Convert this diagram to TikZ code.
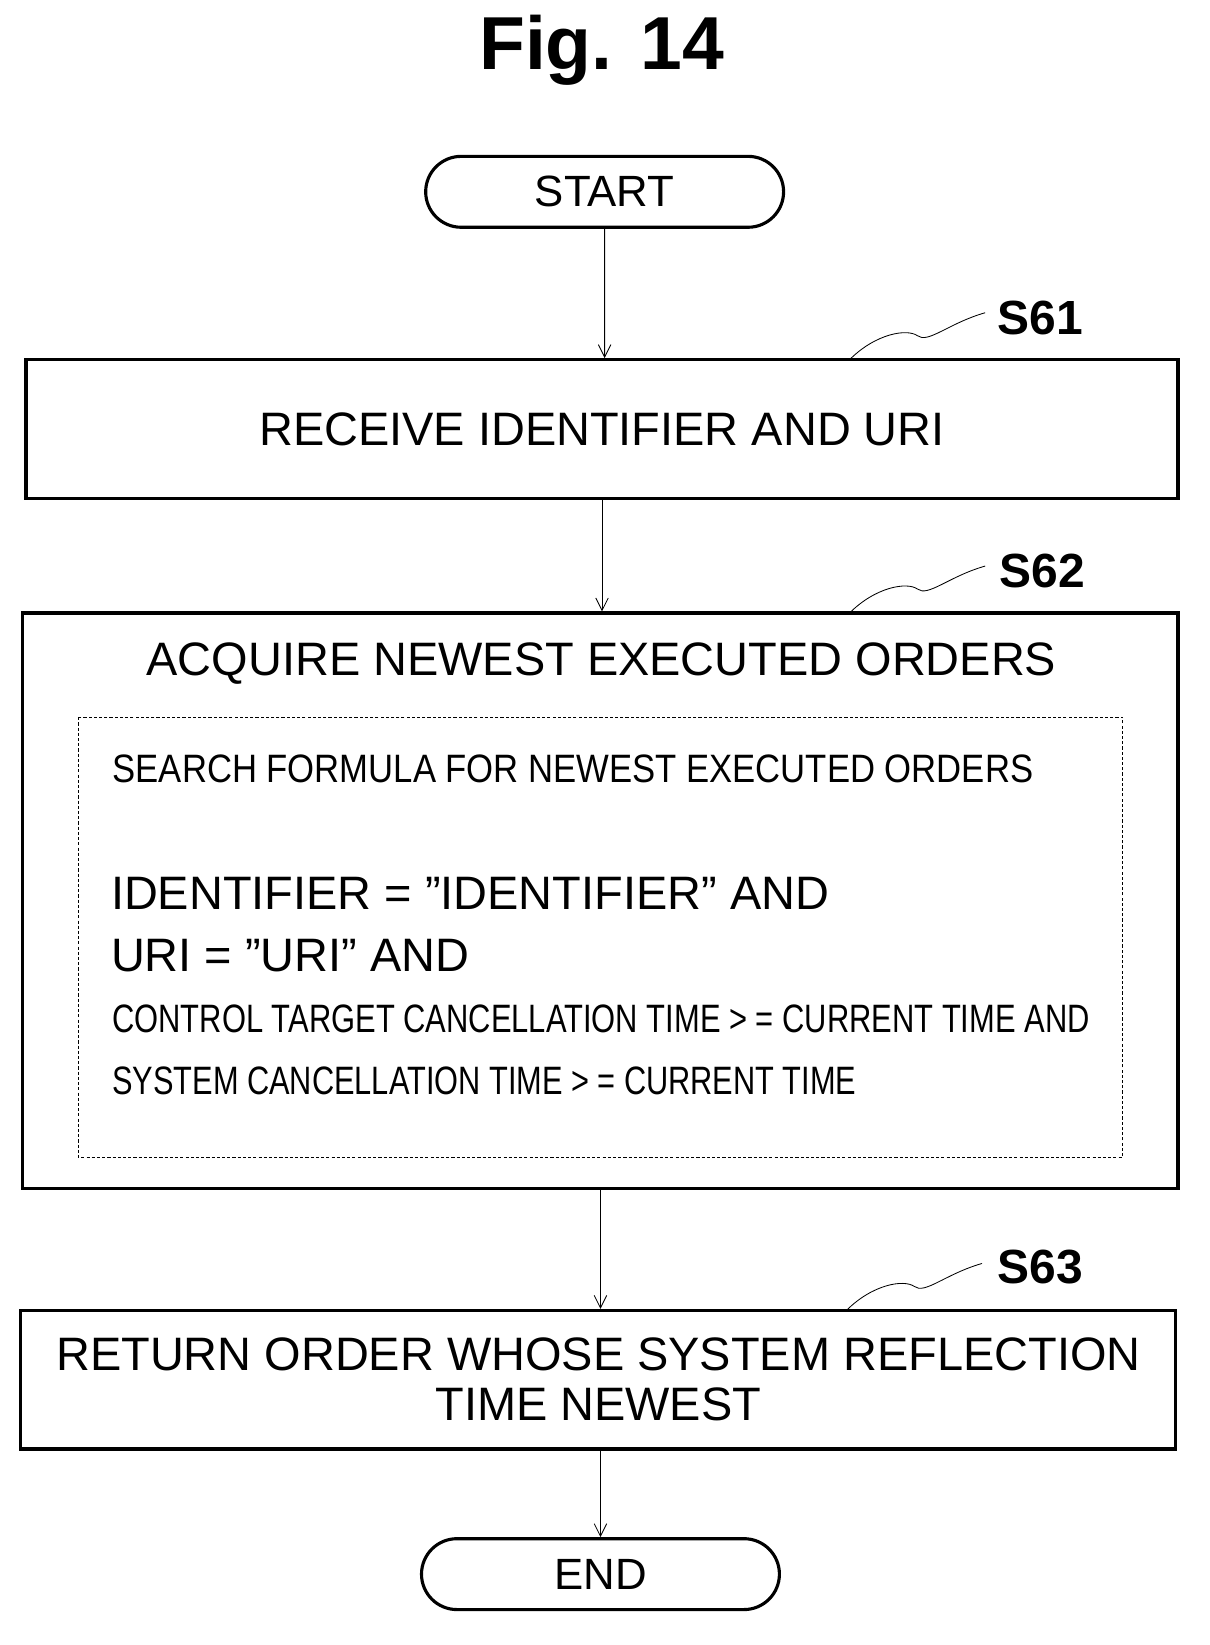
\documentclass[tikz,border=0pt]{standalone}
\usepackage{fontspec}
\setmainfont{Liberation Sans}
\usetikzlibrary{arrows.meta,shapes.misc}
\newcommand{\q}{\symbol{34}}
\begin{document}
\begin{tikzpicture}[x=1pt,y=-1pt,
  txt/.style={font=\fontsize{45}{52}\selectfont},
  cond/.style={font=\fontsize{38}{44}\selectfont,anchor=west},
  box/.style={draw,line width=3pt},
  term/.style={draw,line width=3pt,rounded rectangle,minimum width=350,minimum height=68,font=\fontsize{42}{48}\selectfont},
  arr/.style={-{Straight Barb[length=12pt,width=12pt]},line width=0.8pt},
  lab/.style={font=\bfseries\fontsize{46}{48}\selectfont},
  sq/.style={line width=0.8pt}]
\useasboundingbox (0,0) rectangle (1160,1578);
\node[font=\bfseries\fontsize{72}{76}\selectfont] (title) at (577,48) {Fig. 14};
\node[term] (start) at (580,184) {START};
\node[box,minimum width=1105,minimum height=133,txt] (s61) at (577.5,411.5) {RECEIVE IDENTIFIER AND URI};
\node[box,minimum width=1108,minimum height=552] (s62) at (576,864) {};
\node[txt] (s62t) at (577,637) {ACQUIRE NEWEST EXECUTED ORDERS};
\draw[dash pattern=on 3pt off 2pt,line width=0.8pt] (75,688) rectangle (1077,1110);
\node[cond,xscale=0.875] (l1) at (105,738) {SEARCH FORMULA FOR NEWEST EXECUTED ORDERS};
\node[txt,anchor=west] (l2) at (103,857) {IDENTIFIER = \q IDENTIFIER\q{} AND};
\node[txt,anchor=west] (l3) at (103,917) {URI = \q URI\q{} AND};
\node[cond,xscale=0.78] (l4) at (105,977) {CONTROL TARGET CANCELLATION TIME > = CURRENT TIME AND};
\node[cond,xscale=0.776] (l5) at (105,1037) {SYSTEM CANCELLATION TIME > = CURRENT TIME};
\node[box,minimum width=1108,minimum height=133,txt,align=center] (s63) at (574,1323.5) {RETURN ORDER WHOSE SYSTEM REFLECTION\\[-4pt]TIME NEWEST};
\node[term] (end) at (576,1510) {END};
\draw[arr] (start) -- (start|-s61.north);
\draw[arr] (s61) -- (s61|-s62.north);
\draw[arr] (s62) -- (s62|-s63.north);
\draw[arr] (s63.south-|end) -- (end);
\node[lab] (L61) at (998,305) {S61};
\node[lab] (L62) at (1000,548) {S62};
\node[lab] (L63) at (998,1215) {S63};
\draw[sq] (815,345) .. controls (840,320) and (870,315) .. (880,322) .. controls (890,330) and (910,310) .. (945,300);
\draw[sq] (815,588) .. controls (840,563) and (870,558) .. (880,565) .. controls (890,573) and (910,553) .. (945,543);
\draw[sq] (812,1257) .. controls (837,1232) and (867,1227) .. (877,1234) .. controls (887,1242) and (907,1222) .. (942,1212);
\end{tikzpicture}
\end{document}
